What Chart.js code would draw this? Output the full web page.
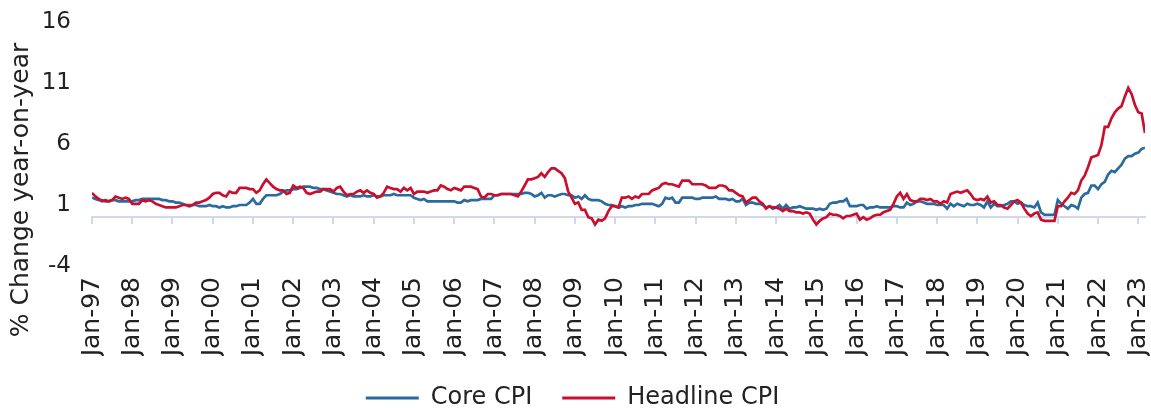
<!DOCTYPE html>
<html>
<head>
<meta charset="utf-8">
<script src="https://cdn.jsdelivr.net/npm/chart.js@4.4.1/dist/chart.umd.min.js"></script>
<style>
  html, body { margin: 0; padding: 0; background: #ffffff; }
  #wrap { position: relative; width: 1151px; height: 408px; }
</style>
</head>
<body>
<div id="wrap"><canvas id="chart"></canvas></div>
<script>
// ---- Data (monthly, Jan-97 .. Mar-23) ----
const tickLabels = ['Jan-97','Jan-98','Jan-99','Jan-00','Jan-01','Jan-02','Jan-03','Jan-04','Jan-05',
  'Jan-06','Jan-07','Jan-08','Jan-09','Jan-10','Jan-11','Jan-12','Jan-13','Jan-14','Jan-15','Jan-16',
  'Jan-17','Jan-18','Jan-19','Jan-20','Jan-21','Jan-22','Jan-23'];
const yTicks = [-4, 1, 6, 11, 16];
const seriesNames = ['Core CPI', 'Headline CPI'];
const yTitle = '% Change year-on-year';

const coreCPI = [
  1.6,1.5,1.4,1.4,1.3,1.3,1.4,1.4,1.3,1.3,1.3,1.3,   // 1997
  1.3,1.4,1.4,1.5,1.5,1.5,1.5,1.5,1.5,1.4,1.4,1.3,   // 1998
  1.3,1.2,1.2,1.1,1.0,1.0,1.0,1.0,0.9,0.9,0.9,1.0,   // 1999
  0.9,0.9,0.8,0.9,0.8,0.8,0.9,0.9,1.0,1.0,1.0,1.2,   // 2000
  1.5,1.1,1.1,1.5,1.8,1.8,1.8,1.8,1.9,2.1,2.2,2.2,   // 2001
  2.3,2.3,2.4,2.5,2.5,2.5,2.4,2.4,2.3,2.3,2.2,2.1,   // 2002
  2.0,1.9,1.9,1.8,1.7,1.8,1.7,1.7,1.7,1.8,1.7,1.7,   // 2003
  1.8,1.7,1.7,1.8,1.8,1.8,1.9,1.8,1.8,1.8,1.8,1.8,   // 2004
  1.6,1.5,1.4,1.5,1.3,1.3,1.3,1.3,1.3,1.3,1.3,1.3,   // 2005
  1.3,1.2,1.2,1.4,1.3,1.4,1.4,1.4,1.5,1.5,1.5,1.5,   // 2006
  1.8,1.8,1.9,1.9,1.9,1.9,1.9,1.9,1.9,2.0,2.0,1.9,   // 2007
  1.7,1.8,2.0,1.6,1.8,1.8,1.7,1.8,1.9,1.9,1.8,1.8,   // 2008
  1.6,1.7,1.5,1.8,1.5,1.4,1.4,1.4,1.3,1.1,1.0,1.0,   // 2009
  0.9,0.8,0.9,0.8,0.9,0.9,1.0,1.0,1.1,1.1,1.1,1.1,   // 2010
  1.0,0.9,1.1,1.6,1.5,1.6,1.2,1.2,1.6,1.6,1.6,1.6,   // 2011
  1.5,1.5,1.6,1.6,1.6,1.6,1.7,1.5,1.5,1.5,1.4,1.5,   // 2012
  1.3,1.3,1.5,1.0,1.2,1.2,1.1,1.1,1.0,0.8,0.9,0.7,   // 2013
  0.8,1.0,0.7,1.0,0.7,0.8,0.8,0.9,0.8,0.7,0.7,0.7,   // 2014
  0.6,0.7,0.6,0.7,1.1,1.2,1.2,1.3,1.3,1.5,0.9,0.9,   // 2015
  0.9,1.0,1.0,0.7,0.8,0.8,0.9,0.8,0.8,0.8,0.8,0.9,   // 2016
  0.9,0.8,0.8,1.2,1.0,1.1,1.3,1.3,1.2,1.1,1.1,1.1,   // 2017
  1.0,1.0,1.0,0.7,1.1,0.9,1.1,1.0,0.9,1.1,1.0,1.0,   // 2018
  1.1,1.0,0.8,1.3,0.8,1.1,0.9,0.9,1.0,1.1,1.3,1.3,   // 2019
  1.1,1.2,1.0,0.9,0.9,0.8,1.2,0.4,0.2,0.2,0.2,0.2,   // 2020
  1.4,1.1,0.9,0.7,1.0,0.9,0.7,1.6,1.9,2.0,2.6,2.6,   // 2021
  2.3,2.7,2.9,3.5,3.8,3.7,4.0,4.3,4.8,5.0,5.0,5.2,   // 2022
  5.3,5.6,5.7                                        // 2023
];

const headlineCPI = [
  2.0,1.7,1.5,1.3,1.4,1.3,1.4,1.7,1.6,1.5,1.6,1.5,   // 1997
  1.1,1.1,1.1,1.4,1.3,1.4,1.3,1.1,1.0,0.9,0.8,0.8,   // 1998
  0.8,0.8,0.9,1.0,1.0,0.9,1.0,1.2,1.2,1.3,1.4,1.6,   // 1999
  1.9,2.0,2.0,1.8,1.7,2.1,2.0,2.0,2.4,2.4,2.4,2.3,   // 2000
  2.3,2.0,2.2,2.7,3.1,2.8,2.5,2.3,2.2,2.2,1.9,2.0,   // 2001
  2.6,2.4,2.5,2.4,2.0,1.9,2.0,2.1,2.1,2.3,2.3,2.3,   // 2002
  2.1,2.4,2.5,2.1,1.8,1.9,1.9,2.1,2.2,2.0,2.2,2.0,   // 2003
  1.9,1.6,1.7,2.0,2.5,2.4,2.3,2.3,2.1,2.4,2.2,2.4,   // 2004
  1.9,2.1,2.1,2.1,2.0,2.1,2.2,2.2,2.6,2.5,2.3,2.2,   // 2005
  2.4,2.3,2.2,2.5,2.5,2.5,2.4,2.3,1.7,1.6,1.9,1.9,   // 2006
  1.8,1.8,1.9,1.9,1.9,1.9,1.8,1.7,2.1,2.6,3.1,3.1,   // 2007
  3.2,3.3,3.6,3.3,3.7,4.0,4.0,3.8,3.6,3.2,2.1,1.6,   // 2008
  1.1,1.2,0.6,0.6,0.0,-0.1,-0.6,-0.2,-0.3,-0.1,0.5,0.9, // 2009
  0.9,0.8,1.6,1.6,1.7,1.5,1.7,1.6,1.9,1.9,1.9,2.2,   // 2010
  2.3,2.4,2.7,2.8,2.7,2.7,2.6,2.5,3.0,3.0,3.0,2.7,   // 2011
  2.7,2.7,2.7,2.6,2.4,2.4,2.4,2.6,2.6,2.5,2.2,2.2,   // 2012
  2.0,1.8,1.7,1.2,1.4,1.6,1.6,1.3,1.1,0.7,0.9,0.8,   // 2013
  0.8,0.7,0.5,0.7,0.5,0.5,0.4,0.4,0.3,0.4,0.3,-0.2,  // 2014
  -0.6,-0.3,-0.1,0.0,0.3,0.2,0.2,0.1,-0.1,0.1,0.1,0.2, // 2015
  0.3,-0.2,0.0,-0.2,-0.1,0.1,0.2,0.2,0.4,0.5,0.6,1.1, // 2016
  1.7,2.0,1.5,1.9,1.4,1.3,1.3,1.5,1.5,1.4,1.5,1.3,   // 2017
  1.3,1.1,1.3,1.2,1.9,2.0,2.1,2.0,2.1,2.2,1.9,1.5,   // 2018
  1.4,1.5,1.4,1.7,1.2,1.3,1.0,1.0,0.8,0.7,1.0,1.3,   // 2019
  1.4,1.2,0.7,0.3,0.1,0.3,0.4,-0.2,-0.3,-0.3,-0.3,-0.3, // 2020
  0.9,0.9,1.3,1.6,2.0,1.9,2.2,3.0,3.4,4.1,4.9,5.0,   // 2021
  5.1,5.9,7.4,7.4,8.1,8.6,8.9,9.1,9.9,10.6,10.1,9.2, // 2022
  8.6,8.5,6.9                                        // 2023
];

// ---- Styling ----
const FONT = 'DejaVu Sans';
const TICK_SIZE = 23;
const XTICK_SIZE = 25;
const TITLE_SIZE = 25;
const LEGEND_SIZE = 24;
const TEXT = '#222222';
const BLUE = '#2B6A9C';
const RED = '#C8102E';
const AXIS = '#D0D8EC';
const lastIndex = headlineCPI.length - 1;

const toPoints = arr => arr.map((v, i) => ({ x: i, y: v }));
const yearTicks = scale => { scale.ticks = tickLabels.map((_, i) => ({ value: i * 12 })); };

const yTitlePlugin = {
  id: 'yTitle',
  afterDraw(chart) {
    const { ctx } = chart;
    const y = chart.scales.y, x = chart.scales.x;
    ctx.save();
    ctx.font = `${TITLE_SIZE}px "${FONT}"`;
    ctx.fillStyle = TEXT;
    ctx.textAlign = 'center';
    ctx.textBaseline = 'middle';
    ctx.translate(21, (y.top + x.bottom) / 2 + 1);
    ctx.rotate(-Math.PI / 2);
    ctx.fillText(yTitle, 0, 0);
    ctx.restore();
  }
};

new Chart(document.getElementById('chart'), {
  type: 'line',
  data: {
    datasets: [
      { label: seriesNames[0], data: toPoints(coreCPI), borderColor: BLUE, backgroundColor: BLUE,
        borderWidth: 2.7, pointRadius: 0, tension: 0, xAxisID: 'x', yAxisID: 'y', order: 1 },
      { label: seriesNames[1], data: toPoints(headlineCPI), borderColor: RED, backgroundColor: RED,
        borderWidth: 2.7, pointRadius: 0, tension: 0, xAxisID: 'x', yAxisID: 'y', order: 0 }
    ]
  },
  options: {
    responsive: true,
    maintainAspectRatio: false,
    animation: false,
    layout: { padding: { top: 22, right: 6, bottom: -12, left: 0 } },
    plugins: {
      tooltip: { enabled: false },
      legend: {
        position: 'bottom',
        labels: {
          boxWidth: 53, boxHeight: 3, padding: 30, color: TEXT,
          font: { family: FONT, size: LEGEND_SIZE },
          sort: (a, b) => a.datasetIndex - b.datasetIndex,
          generateLabels: chart => Chart.defaults.plugins.legend.labels.generateLabels(chart)
            .map(l => Object.assign(l, { lineWidth: 0 }))
        }
      }
    },
    scales: {
      x: {
        type: 'linear', position: 'bottom', min: 0, max: lastIndex,
        afterBuildTicks: yearTicks,
        afterFit: s => { s.height = 90; s.paddingLeft = 0; s.paddingRight = 0; },
        grid: { display: false, drawTicks: false },
        border: { display: false },
        ticks: {
          autoSkip: false, minRotation: 90, maxRotation: 90, padding: 11, color: TEXT,
          font: { family: FONT, size: XTICK_SIZE },
          callback: (v, i) => tickLabels[i]
        }
      },
      x2: {
        axis: 'x', type: 'linear', position: { y: 0 }, min: 0, max: lastIndex,
        afterBuildTicks: yearTicks,
        ticks: { display: false },
        grid: { display: true, drawOnChartArea: false, drawTicks: true, tickLength: 6, color: AXIS, lineWidth: 2 },
        border: { display: true, color: AXIS, width: 2 }
      },
      y: {
        type: 'linear', position: 'left', min: -4, max: 16,
        afterBuildTicks: s => { s.ticks = yTicks.map(v => ({ value: v })); },
        afterFit: s => { s.width = 92; s.paddingTop = 0; s.paddingBottom = 0; },
        grid: { display: false, drawTicks: false },
        border: { display: false },
        ticks: { padding: 21, color: TEXT, font: { family: FONT, size: TICK_SIZE } }
      }
    }
  },
  plugins: [yTitlePlugin]
});
</script>
</body>
</html>
